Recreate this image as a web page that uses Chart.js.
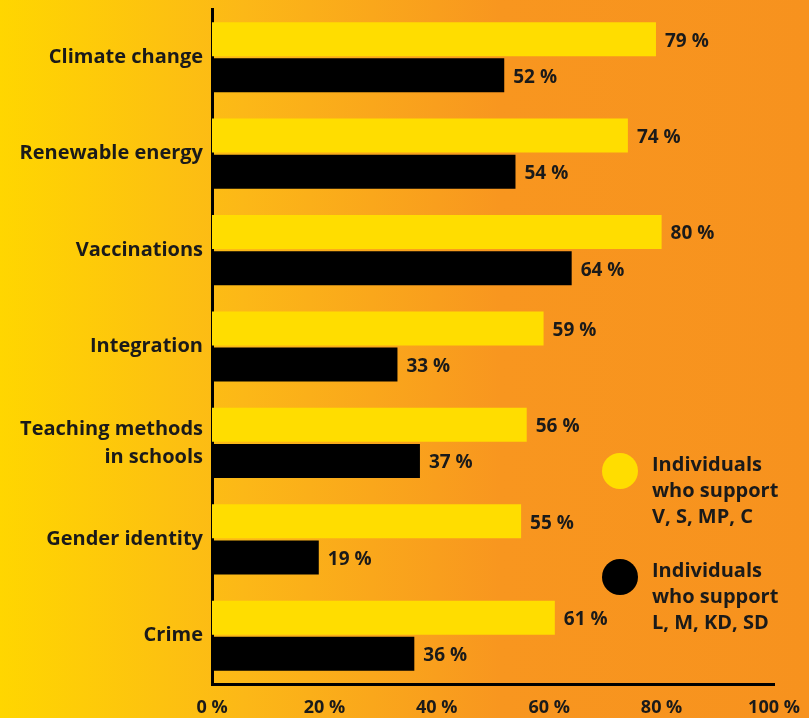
<!DOCTYPE html>
<html>
<head>
<meta charset="utf-8">
<script src="https://cdn.jsdelivr.net/npm/chart.js@4.4.0/dist/chart.umd.min.js"></script>
<style>
  html, body { margin: 0; padding: 0; }
  #wrap { width: 809px; height: 718px; }
</style>
</head>
<body>
<div id="wrap"><canvas id="myChart"></canvas></div>
<script>
const topics = ['Climate change', 'Renewable energy', 'Vaccinations', 'Integration',
  ['Teaching methods', 'in schools'], 'Gender identity', 'Crime'];
const leftBloc = [79, 74, 80, 59, 56, 55, 61];
const rightBloc = [52, 54, 64, 33, 37, 19, 36];
const seriesNames = [
  ['Individuals', 'who support', 'V, S, MP, C'],
  ['Individuals', 'who support', 'L, M, KD, SD']
];
const xTicks = [0, 20, 40, 60, 80, 100];

const FONT = '"Open Sans", "Noto Sans", sans-serif';
const YELLOW = '#FFDD00';

// orange/yellow backdrop behind everything
const backdrop = {
  id: 'backdrop',
  beforeDraw(chart) {
    const c = chart.ctx;
    const g = c.createLinearGradient(0, 0, chart.width, 0);
    g.addColorStop(0, '#FFD600');
    g.addColorStop(0.3, '#FCB817');
    g.addColorStop(0.62, '#F8961F');
    g.addColorStop(1, '#F7921E');
    c.save();
    c.fillStyle = g;
    c.fillRect(0, 0, chart.width, chart.height);
    c.restore();
  }
};

// "79 %" labels at bar ends
const valueLabels = {
  id: 'valueLabels',
  afterDatasetsDraw(chart) {
    const c = chart.ctx;
    c.save();
    c.font = 'bold 19px ' + FONT;
    c.fillStyle = '#1a1a1a';
    c.textBaseline = 'middle';
    chart.data.datasets.forEach((ds, i) => {
      chart.getDatasetMeta(i).data.forEach((bar, j) => {
        c.fillText(ds.data[j] + ' %', bar.x + 9, bar.y + 2);
      });
    });
    c.restore();
  }
};

// legend with round markers on the right
const sideLegend = {
  id: 'sideLegend',
  afterDraw(chart) {
    const c = chart.ctx;
    const tops = [465, 571];
    c.save();
    chart.data.datasets.forEach((ds, i) => {
      c.fillStyle = ds.backgroundColor;
      c.beginPath();
      c.arc(620, tops[i] + 6, 18, 0, Math.PI * 2);
      c.fill();
      c.fillStyle = '#1a1a1a';
      c.font = 'bold 20px ' + FONT;
      c.textBaseline = 'middle';
      seriesNames[i].forEach((line, k) => {
        c.fillText(line, 652, tops[i] + k * 26);
      });
    });
    c.restore();
  }
};

function makeChart() {
  const ctx = document.getElementById('myChart').getContext('2d');

  const config = {
    type: 'bar',
    data: {
      labels: topics,
      datasets: [{
        label: seriesNames[0].join(' '),
        data: leftBloc,
        backgroundColor: YELLOW,
        categoryPercentage: 0.75,
        barPercentage: 0.94
      }, {
        label: seriesNames[1].join(' '),
        data: rightBloc,
        backgroundColor: '#000000',
        categoryPercentage: 0.75,
        barPercentage: 0.94
      }]
    },
    options: {
      indexAxis: 'y',
      responsive: true,
      maintainAspectRatio: false,
      animation: false,
      layout: { padding: { top: 9, right: 35, left: 0, bottom: 0 } },
      plugins: {
        legend: { display: false },
        tooltip: { enabled: false }
      },
      scales: {
        x: {
          min: 0,
          max: 100,
          afterBuildTicks(scale) {
            scale.ticks = xTicks.map(v => ({ value: v }));
          },
          afterFit(scale) {
            scale.height = 34;
            scale.paddingLeft = 0;
            scale.paddingRight = 0;
          },
          grid: { display: false },
          border: { display: true, color: '#000', width: 3 },
          ticks: {
            color: '#1a1a1a',
            padding: 5,
            maxRotation: 0,
            font: { family: FONT, size: 18, weight: 'bold' },
            callback: v => v + ' %'
          }
        },
        y: {
          afterFit(scale) {
            scale.width = 212;
            scale.paddingTop = 0;
            scale.paddingBottom = 0;
          },
          grid: { display: false },
          border: { display: true, color: '#000', width: 3 },
          ticks: {
            color: '#1a1a1a',
            padding: 1,
            font: { family: FONT, size: 20, weight: 'bold', lineHeight: 1.4 }
          }
        }
      }
    },
    plugins: [backdrop, valueLabels, sideLegend]
  };

  return new Chart(ctx, config);
}

Promise.all([
  document.fonts.load('bold 20px "Open Sans"'),
  document.fonts.load('bold 18px "Open Sans"')
]).catch(() => {}).then(() => { window.myChart = makeChart(); });
</script>
</body>
</html>
